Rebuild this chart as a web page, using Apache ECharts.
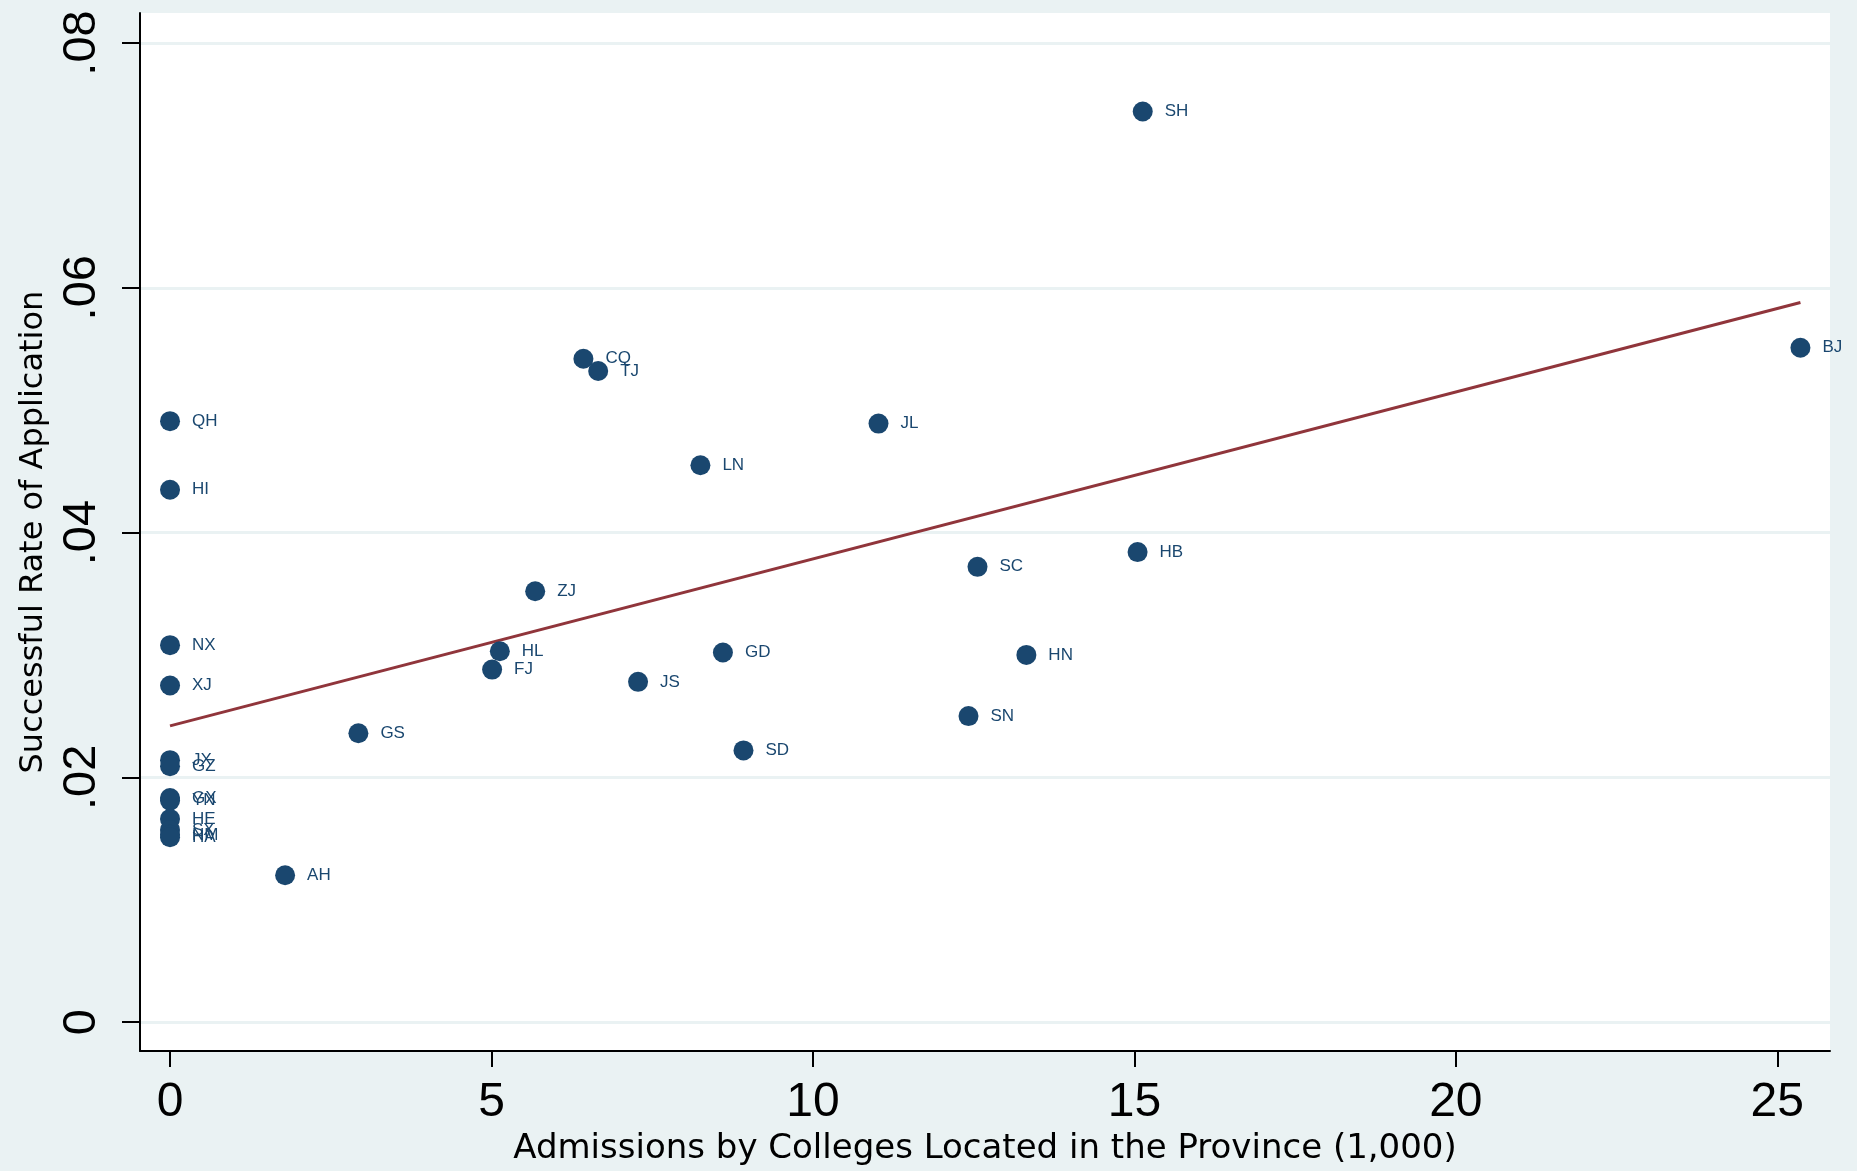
<!DOCTYPE html>
<html>
<head>
<meta charset="utf-8">
<script src="https://cdn.jsdelivr.net/npm/echarts@6/dist/echarts.min.js"></script>
<style>
html,body{margin:0;padding:0;background:#eaf2f3;}
#chart{width:1857px;height:1171px;}
</style>
</head>
<body>
<div id="chart"></div>
<script>
const provinces = ['SH','BJ','CQ','TJ','QH','JL','HI','LN','HB','SC','ZJ','NX','HL','GD','HN','FJ','XJ','JS','SN','GS','SD','JX','GZ','GX','YN','HE','SX','NM','HA','AH'];
const admissions = [15.13,25.36,6.43,6.66,0,11.02,0,8.25,15.05,12.56,5.68,0,5.13,8.60,13.32,5.01,0,7.28,12.42,2.93,8.92,0,0,0,0,0,0,0,0,1.79];
const successRate = [0.0744,0.0551,0.0542,0.0532,0.0491,0.0489,0.0435,0.0455,0.0384,0.0372,0.0352,0.0308,0.0303,0.0302,0.0300,0.0288,0.0275,0.0278,0.0250,0.0236,0.0222,0.0214,0.0209,0.0183,0.0181,0.0166,0.0157,0.0153,0.0151,0.0120];
const fitLine = [[0,0.0242],[25.36,0.0588]];
const xTicks = [0,5,10,15,20,25];
const xTickLabels = ['0','5','10','15','20','25'];
const yTicks = [0,0.02,0.04,0.06,0.08];
const yTickLabels = ['0','.02','.04','.06','.08'];
const xTitle = 'Admissions by Colleges Located in the Province (1,000)';
const yTitle = 'Successful Rate of Application';

const navy = '#1a476f';
const chart = echarts.init(document.getElementById('chart'), null, {renderer:'canvas'});
const pts = provinces.map((p,i)=>({value:[admissions[i], successRate[i]], name:p}));
const fmt = (vals, labels) => v => { for (let i=0;i<vals.length;i++){ if (Math.abs(vals[i]-v)<1e-9) return labels[i]; } return ''; };

chart.setOption({
  backgroundColor:'#eaf2f3',
  animation:false,
  grid:{left:140, right:27, top:13, bottom:119, show:true, backgroundColor:'#ffffff', borderWidth:0, containLabel:false},
  xAxis:{
    type:'value', min:-0.467, max:25.82,
    name:xTitle, nameLocation:'middle', nameGap:76,
    nameTextStyle:{fontFamily:'DejaVu Sans', fontSize:34, color:'#000'},
    axisLine:{show:true, onZero:false, lineStyle:{color:'#000', width:2}},
    axisTick:{show:true, inside:false, length:16, lineStyle:{color:'#000', width:2}, customValues:xTicks},
    axisLabel:{show:true, margin:28, fontFamily:'Liberation Sans, Arial', fontSize:48, color:'#000', customValues:xTicks, formatter:fmt(xTicks,xTickLabels)},
    splitLine:{show:false}
  },
  yAxis:{
    type:'value', min:-0.00237, max:0.08245,
    name:yTitle, nameLocation:'middle', nameGap:90, nameRotate:90,
    nameTextStyle:{fontFamily:'DejaVu Sans', fontSize:32, color:'#000'},
    axisLine:{show:true, onZero:false, lineStyle:{color:'#000', width:2}},
    axisTick:{show:true, inside:false, length:18, lineStyle:{color:'#000', width:2}, customValues:yTicks},
    axisLabel:{show:true, rotate:90, margin:34, fontFamily:'Liberation Sans, Arial', fontSize:47, color:'#000', customValues:yTicks, formatter:fmt(yTicks,yTickLabels)},
    splitLine:{show:true, lineStyle:{color:'#eaf2f3', width:3}}
  },
  series:[
    {
      type:'line', data:fitLine, showSymbol:false, symbol:'none',
      lineStyle:{color:'#90353b', width:3}, z:3
    },
    {
      type:'scatter', data:pts, symbol:'circle', symbolSize:20,
      itemStyle:{color:navy, opacity:1},
      label:{show:true, position:'right', distance:12, formatter:p=>p.name,
        fontFamily:'Liberation Sans, Arial', fontSize:17, color:navy},
      z:4
    }
  ]
});
</script>
</body>
</html>
